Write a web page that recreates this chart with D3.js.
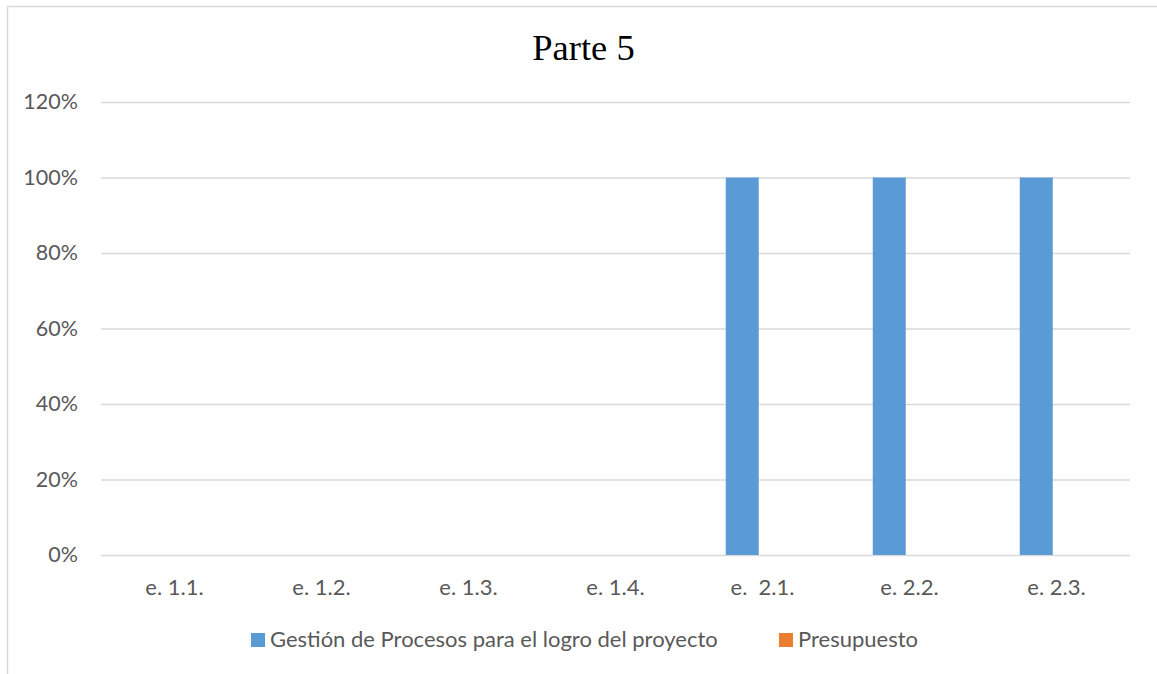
<!DOCTYPE html>
<html>
<head>
<meta charset="utf-8">
<script src="https://cdn.jsdelivr.net/npm/d3@7"></script>
<style>
  body { margin: 0; background: #fff; }
  text { font-family: "Lato", "Open Sans", sans-serif; fill: #595959; }
</style>
</head>
<body>
<svg width="1157" height="674"></svg>
<script>
const svg = d3.select("svg");

const categories = ["e. 1.1.", "e. 1.2.", "e. 1.3.", "e. 1.4.", "e.  2.1.", "e. 2.2.", "e. 2.3."];
const seriesNames = ["Gestión de Procesos para el logro del proyecto", "Presupuesto"];
const gestion = [0, 0, 0, 0, 1, 1, 1];
const presupuesto = [0, 0, 0, 0, 0, 0, 0];
const yTicks = [0, 0.2, 0.4, 0.6, 0.8, 1.0, 1.2];
const colors = ["#5B9BD5", "#ED7D31"];

const rows = categories.map((c, i) => ({cat: c, values: [gestion[i], presupuesto[i]]}));

//====== Frame ======
svg.append("path")
    .attr("d", "M7.5,680 V6.5 H1160")
    .attr("fill", "none")
    .attr("stroke", "#D9D9D9")
    .attr("stroke-width", 1.5);

//====== Scales ======
const plotLeft = 101, plotRight = 1130, plotTop = 102, plotBottom = 555;

const x0 = d3.scaleBand()
    .domain(categories)
    .range([plotLeft, plotRight])
    .paddingInner(0.5)
    .paddingOuter(0.25);

const x1 = d3.scaleBand()
    .domain(seriesNames)
    .range([0, x0.bandwidth()])
    .paddingInner(0.185);

const y = d3.scaleLinear()
    .domain([0, 1.2])
    .range([plotBottom, plotTop]);

//====== Grid + y axis ======
const yAxis = svg.append("g")
    .attr("transform", `translate(${plotLeft},0)`)
    .call(d3.axisLeft(y)
        .tickValues(yTicks)
        .tickSize(-(plotRight - plotLeft))
        .tickPadding(23)
        .tickFormat(d3.format(".0%")));

yAxis.select(".domain").remove();
yAxis.selectAll(".tick line")
    .attr("stroke", "#D9D9D9")
    .attr("stroke-width", 1.5);
yAxis.selectAll(".tick text")
    .style("font-family", "Lato, 'Open Sans', sans-serif")
    .attr("font-size", 21.5)
    .attr("fill", "#595959");

//====== Bars ======
svg.append("g")
    .selectAll("g")
    .data(rows)
    .join("g")
        .attr("transform", d => `translate(${x0(d.cat)},0)`)
    .selectAll("rect")
    .data(d => d.values.map((v, i) => ({key: seriesNames[i], value: v, i: i})))
    .join("rect")
        .attr("x", d => x1(d.key))
        .attr("width", x1.bandwidth())
        .attr("y", d => y(d.value))
        .attr("height", d => y(0) - y(d.value))
        .attr("fill", d => colors[d.i]);

//====== X axis ======
const xAxis = svg.append("g")
    .attr("transform", `translate(0,${plotBottom})`)
    .call(d3.axisBottom(x0).tickSize(0).tickPadding(24));

xAxis.select(".domain").remove();
xAxis.selectAll(".tick text")
    .style("font-family", "Lato, 'Open Sans', sans-serif")
    .style("white-space", "pre")
    .attr("font-size", 22)
    .attr("fill", "#595959");

//====== Title ======
svg.append("text")
    .attr("x", 583.5)
    .attr("y", 60)
    .attr("text-anchor", "middle")
    .style("font-family", "'Liberation Serif', 'Times New Roman', serif")
    .style("fill", "#000")
    .attr("font-size", 36.5)
    .text("Parte 5");

//====== Legend ======
const legendX = [251, 779];
const legend = svg.append("g")
    .selectAll("g")
    .data(seriesNames)
    .join("g")
        .attr("transform", (d, i) => `translate(${legendX[i]},633)`);

legend.append("rect")
    .attr("width", 14)
    .attr("height", 14)
    .attr("fill", (d, i) => colors[i]);

legend.append("text")
    .attr("x", 19)
    .attr("y", 14)
    .attr("font-size", 22)
    .text(d => d);
</script>
</body>
</html>
